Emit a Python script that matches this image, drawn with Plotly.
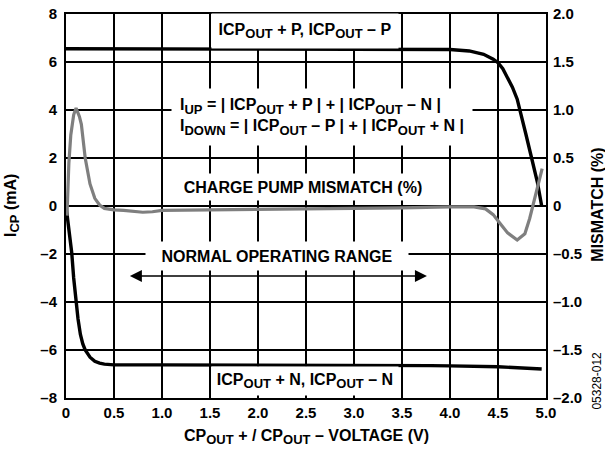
import plotly.graph_objects as go

# ---------------- data ----------------
p_x = [0, 0.5, 1.0, 1.5, 2.0, 2.5, 3.0, 3.5, 4.0, 4.2, 4.35, 4.45, 4.5, 4.55, 4.6,
       4.65, 4.7, 4.73, 4.79, 4.85, 4.91, 4.955]
p_y = [6.55, 6.55, 6.55, 6.55, 6.55, 6.55, 6.55, 6.54, 6.52, 6.46, 6.32, 6.12, 5.97,
       5.72, 5.35, 4.95, 4.45, 4.0, 3.0, 2.0, 1.0, 0.0]

n_x = [0, 0.03, 0.06, 0.08, 0.1, 0.125, 0.15, 0.175, 0.2, 0.25, 0.3, 0.35, 0.4, 0.5,
       1.0, 2.0, 3.0, 3.6, 3.8, 4.0, 4.5, 4.955]
n_y = [0.0, -0.9, -1.96, -3.0, -3.9, -4.7, -5.35, -5.75, -6.0, -6.3, -6.47, -6.55,
       -6.59, -6.62, -6.62, -6.62, -6.62, -6.62, -6.65, -6.66, -6.7, -6.79]

m_x = [0.01, 0.03, 0.05, 0.08, 0.105, 0.14, 0.16, 0.2, 0.25, 0.3, 0.35, 0.4, 0.5, 0.6,
       0.8, 0.9, 1.0, 1.5, 2.0, 2.5, 3.0, 3.5, 4.0, 4.25, 4.37, 4.45, 4.52, 4.6, 4.7,
       4.78, 4.83, 4.87, 4.92, 4.96]
m_y = [-0.1, 0.45, 0.74, 0.95, 1.02, 0.93, 0.85, 0.5, 0.23, 0.08, 0.01, -0.025, -0.04,
       -0.045, -0.065, -0.06, -0.045, -0.04, -0.04, -0.035, -0.03, -0.02, -0.01, -0.01,
       -0.03, -0.09, -0.18, -0.28, -0.355, -0.29, -0.13, 0.03, 0.22, 0.39]

x_ticks = [0, 0.5, 1.0, 1.5, 2.0, 2.5, 3.0, 3.5, 4.0, 4.5, 5.0]
x_labels = ["0", "0.5", "1.0", "1.5", "2.0", "2.5", "3.0", "3.5", "4.0", "4.5", "5.0"]
y_ticks = [8, 6, 4, 2, 0, -2, -4, -6, -8]
y_labels = ["8", "6", "4", "2", "0", "–2", "–4", "–6", "–8"]
y2_ticks = [2.0, 1.5, 1.0, 0.5, 0, -0.5, -1.0, -1.5, -2.0]
y2_labels = ["2.0", "1.5", "1.0", "0.5", "0", "–0.5", "–1.0", "–1.5", "–2.0"]

range_start, range_end, range_level = 0.65, 3.76, -2.92

FONT = "Liberation Sans, Arial, sans-serif"

fig = go.Figure()
fig.add_trace(go.Scatter(x=m_x, y=m_y, yaxis="y2", mode="lines",
                         line=dict(color="#7f7f7f", width=3.2), showlegend=False))
fig.add_trace(go.Scatter(x=p_x, y=p_y, mode="lines",
                         line=dict(color="black", width=3.4), showlegend=False))
fig.add_trace(go.Scatter(x=n_x, y=n_y, mode="lines",
                         line=dict(color="black", width=3.4), showlegend=False))

afont = dict(family=FONT, size=16, color="black", weight="bold")


def sub(t):
    return '<sub><span style="font-size:13px">' + t + '</span></sub>'


def box(text, x, y, w, h, align="center", pad=0):
    return dict(text=text, x=x, y=y, xref="x", yref="y", showarrow=False,
                font=afont, bgcolor="white", width=w, height=h, borderpad=pad,
                align=align, valign="middle")


annotations = [
    box("ICP" + sub("OUT") + " + P, ICP" + sub("OUT") + " – P", 2.49, 7.29, 186, 34),
    box("I" + sub("UP") + " = | ICP" + sub("OUT") + " + P | + | ICP" + sub("OUT") + " – N |<br>"
        "I" + sub("DOWN") + " = | ICP" + sub("OUT") + " – P | + | ICP" + sub("OUT") + " + N |",
        2.667, 3.7, 284, 40, align="left", pad=8),
    box("CHARGE PUMP MISMATCH (%)", 2.47, 0.8, 258, 26),
    box("NORMAL OPERATING RANGE", 2.2, -2.1, 262, 28),
    box("ICP" + sub("OUT") + " + N, ICP" + sub("OUT") + " – N", 2.49, -7.3, 186, 28),
    dict(text="", x=range_end, y=range_level, ax=range_start, ay=range_level,
         xref="x", yref="y", axref="x", ayref="y", showarrow=True,
         arrowside="end+start", arrowhead=2, arrowsize=1.6, arrowwidth=1.5,
         arrowcolor="black", standoff=0, startstandoff=0),
    dict(text="I" + sub("CP") + " (mA)", x=-0.1125, y=0.5, xref="paper", yref="paper",
         xanchor="center", yanchor="middle", textangle=-90, showarrow=False, font=afont),
    dict(text="MISMATCH (%)", x=1.108, y=0.503, xref="paper", yref="paper",
         xanchor="center", yanchor="middle", textangle=-90, showarrow=False, font=afont),
    dict(text="CP" + sub("OUT") + " + / CP" + sub("OUT") + " – VOLTAGE (V)", x=0.5,
         y=-0.102, xref="paper", yref="paper", xanchor="center", yanchor="middle",
         showarrow=False, font=afont),
    dict(text="05328-012", x=1.106, y=0.045, xref="paper", yref="paper",
         xanchor="center", yanchor="middle", textangle=-90, showarrow=False,
         font=dict(family=FONT, size=12, color="black")),
]

axis_common = dict(showline=True, linecolor="black", linewidth=2, zeroline=False,
                   automargin=False,
                   ticks="", tickfont=dict(family=FONT, size=15, color="black",
                                           weight="bold"))

fig.update_layout(
    template="none",
    width=605, height=452,
    margin=dict(l=66, r=59, t=14, b=54, autoexpand=False),
    paper_bgcolor="white", plot_bgcolor="white",
    font=dict(family=FONT, color="black"),
    xaxis=dict(range=[0, 5], tickvals=x_ticks, ticktext=x_labels, showgrid=True,
               gridcolor="black", gridwidth=1.6, mirror=True, **axis_common),
    yaxis=dict(range=[-8, 8], tickvals=y_ticks, ticktext=y_labels, showgrid=True,
               gridcolor="black", gridwidth=1.6, mirror=True, ticklabelstandoff=4,
               **axis_common),
    yaxis2=dict(range=[-2, 2], tickvals=y2_ticks, ticktext=y2_labels, overlaying="y",
                side="right", showgrid=False, ticklabelstandoff=2, **axis_common),
    annotations=annotations,
)

fig.write_html("out.html", config={"displayModeBar": False},
               post_script="document.body.style.margin = '0';")
